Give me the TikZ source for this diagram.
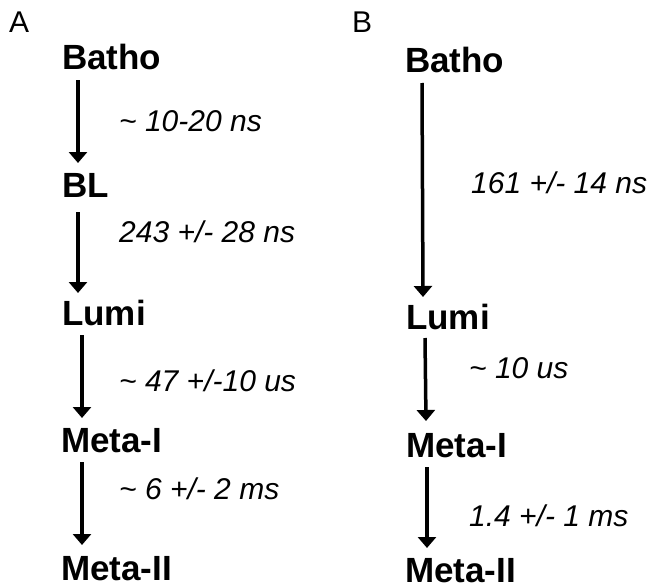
\documentclass[tikz,border=0pt]{standalone}
\usepackage{fontspec}
\setmainfont{Liberation Sans}
\usetikzlibrary{arrows.meta}
\begin{document}
\begin{tikzpicture}[x=1pt,y=-1pt,
  state/.style={anchor=base west,inner sep=0pt,font=\fontsize{35}{40}\selectfont\bfseries},
  rate/.style={anchor=base west,inner sep=0pt,font=\fontsize{30}{34}\selectfont\itshape},
  panel/.style={anchor=base west,inner sep=0pt,font=\fontsize{30}{34}\selectfont},
  arr/.style={line width=3.5pt,-{Triangle[width=18pt,length=11pt]}}]
\useasboundingbox (0,0) rectangle (650,586);
% panel letters
\node[panel] (pA) at (9,33) {A};
\node[panel] (pB) at (352,33) {B};
% column A
\node[state] (a1) at (62,70) {Batho};
\node[state] (a2) at (62,197) {BL};
\node[state] (a3) at (62,325) {Lumi};
\node[state] (a4) at (61,452) {Meta-I};
\node[state] (a5) at (61,580) {Meta-II};
\node[rate] (r1) at (119,131) {\char`\~\ 10-20 ns};
\node[rate] (r2) at (119,242) {243 +/- 28 ns};
\node[rate] (r3) at (119,391) {\char`\~\ 47 +/-10 us};
\node[rate] (r4) at (119,499) {\char`\~\ 6 +/- 2 ms};
\draw[arr] ([xshift=16pt,yshift=-10pt]a1.base west) -- ([xshift=16pt,yshift=34pt]a2.base west);
\draw[arr] ([xshift=16pt,yshift=-15pt]a2.base west) -- ([xshift=16pt,yshift=32pt]a3.base west);
\draw[arr] ([xshift=20pt,yshift=-10pt]a3.base west) -- ([xshift=21pt,yshift=34pt]a4.base west);
\draw[arr] ([xshift=21pt,yshift=-10pt]a4.base west) -- ([xshift=21pt,yshift=35pt]a5.base west);
% column B
\node[state] (b1) at (405,73) {Batho};
\node[state] (b2) at (406,329) {Lumi};
\node[state] (b3) at (406,457) {Meta-I};
\node[state] (b4) at (405,582) {Meta-II};
\node[rate] (s1) at (471,193) {161 +/- 14 ns};
\node[rate] (s2) at (469,378) {\char`\~\ 10 us};
\node[rate] (s3) at (469,526) {1.4 +/- 1 ms};
\draw[arr] ([xshift=17pt,yshift=-10pt]b1.base west) -- ([xshift=17pt,yshift=32pt]b2.base west);
\draw[arr] ([xshift=19pt,yshift=-9pt]b2.base west) -- ([xshift=20pt,yshift=36pt]b3.base west);
\draw[arr] ([xshift=21pt,yshift=-10pt]b3.base west) -- ([xshift=22pt,yshift=34pt]b4.base west);
\end{tikzpicture}
\end{document}
